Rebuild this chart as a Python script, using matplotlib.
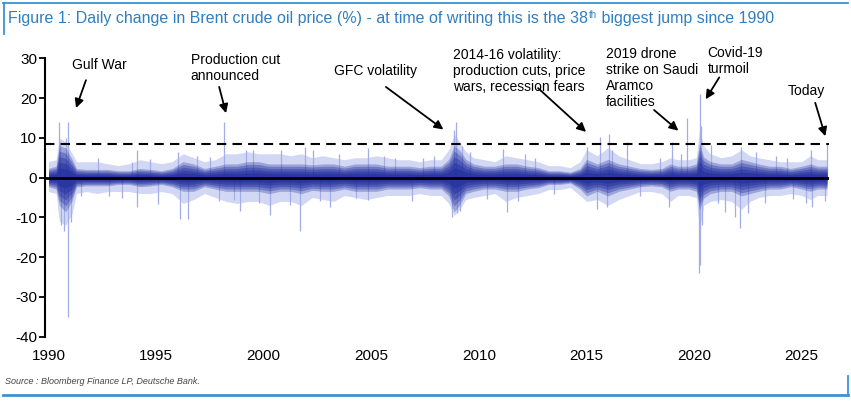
import matplotlib
matplotlib.use('Agg')
import matplotlib.pyplot as plt

# ---------------- data ----------------
env_years = [1990.0, 1990.35, 1990.5, 1990.8, 1991.1, 1991.3, 1991.75, 1992.25, 1992.75, 1993.25,
             1993.75, 1994.25, 1994.75, 1995.25, 1995.75, 1996.25, 1996.75, 1997.25, 1997.75, 1998.25,
             1998.75, 1999.25, 1999.75, 2000.25, 2000.75, 2001.25, 2001.75, 2002.25, 2002.75, 2003.25,
             2003.75, 2004.25, 2004.75, 2005.25, 2005.75, 2006.25, 2006.75, 2007.25, 2007.75, 2008.25,
             2008.6, 2008.85, 2009.1, 2009.4, 2009.75, 2010.25, 2010.75, 2011.25, 2011.75, 2012.25,
             2012.75, 2013.25, 2013.75, 2014.25, 2014.7, 2015.0, 2015.5, 2016.0, 2016.5, 2017.0,
             2017.5, 2018.0, 2018.5, 2018.9, 2019.25, 2019.75, 2020.1, 2020.25, 2020.45, 2020.75,
             2021.25, 2021.75, 2022.2, 2022.6, 2023.0, 2023.5, 2024.0, 2024.5, 2025.0, 2025.4,
             2025.75, 2026.18]
core_hi = [2.0, 2.5, 7.0, 6.5, 4.0, 2.0, 1.8, 1.8, 1.8, 1.5,
           1.5, 2.0, 1.8, 1.5, 2.0, 3.5, 3.0, 2.0, 2.5, 3.0,
           3.0, 3.5, 3.5, 3.0, 3.0, 3.0, 3.0, 2.8, 3.0, 3.0,
           2.5, 3.0, 3.0, 3.0, 2.5, 2.5, 2.5, 2.2, 2.5, 2.5,
           4.0, 7.0, 6.0, 4.0, 3.0, 2.5, 2.5, 3.0, 3.0, 2.5,
           2.2, 1.5, 1.5, 1.2, 2.0, 4.0, 3.0, 4.0, 3.0, 2.5,
           2.0, 1.8, 2.0, 3.0, 2.5, 2.5, 3.0, 7.5, 4.5, 3.5,
           3.0, 3.0, 4.0, 3.5, 3.0, 2.5, 2.5, 2.0, 2.5, 3.0,
           2.5, 2.5]
core_lo = [-2.0, -2.5, -6.0, -7.5, -5.0, -2.0, -1.8, -1.8, -1.8, -1.5,
           -1.5, -2.0, -1.8, -1.5, -2.0, -3.0, -3.0, -2.0, -2.5, -3.0,
           -3.0, -3.0, -3.0, -3.5, -3.0, -3.0, -3.5, -2.8, -3.0, -3.0,
           -2.5, -3.0, -3.0, -3.0, -2.5, -2.5, -2.5, -2.2, -2.5, -2.5,
           -4.0, -7.5, -6.0, -3.5, -3.0, -2.5, -2.5, -3.0, -3.0, -2.5,
           -2.2, -1.5, -1.5, -1.2, -2.5, -4.0, -3.0, -4.0, -3.0, -2.5,
           -2.0, -1.8, -2.0, -3.0, -2.5, -2.5, -3.0, -7.0, -4.5, -3.5,
           -3.0, -3.0, -4.0, -3.5, -3.0, -2.5, -2.5, -2.0, -2.5, -3.0,
           -2.5, -2.5]
outer_hi = [4.0, 4.5, 10.0, 9.0, 6.0, 4.0, 4.0, 4.0, 3.5, 3.0,
            3.5, 4.5, 4.0, 3.5, 4.0, 6.0, 5.0, 4.0, 4.5, 6.0,
            6.0, 6.5, 6.0, 6.0, 6.0, 5.5, 6.0, 5.0, 5.5, 5.0,
            4.5, 5.0, 5.0, 5.5, 5.0, 4.5, 4.5, 4.0, 4.5, 4.5,
            7.0, 11.0, 9.0, 6.5, 5.0, 4.5, 4.0, 5.5, 5.0, 4.5,
            4.0, 3.0, 3.0, 2.5, 4.0, 7.0, 5.5, 7.5, 5.5, 4.5,
            3.5, 3.5, 4.0, 5.0, 4.5, 4.5, 5.0, 12.0, 8.0, 6.0,
            5.0, 5.5, 7.0, 5.5, 5.0, 4.5, 4.0, 4.0, 4.0, 5.5,
            4.5, 4.5]
outer_lo = [-3.5, -4.0, -11.0, -12.0, -9.0, -4.0, -3.5, -4.0, -3.5, -3.5,
            -3.5, -4.0, -4.0, -3.5, -4.0, -6.5, -5.5, -4.0, -5.0, -6.0,
            -6.5, -6.0, -6.0, -7.0, -6.0, -6.0, -7.0, -5.0, -5.5, -6.0,
            -4.5, -5.0, -5.5, -5.0, -4.5, -4.5, -4.5, -4.0, -4.5, -4.5,
            -6.5, -9.5, -8.0, -5.5, -5.0, -4.5, -4.0, -6.0, -5.0, -4.5,
            -4.0, -3.0, -3.0, -2.5, -4.5, -6.0, -5.5, -7.0, -5.5, -4.5,
            -3.5, -3.5, -4.0, -6.0, -4.5, -4.5, -5.0, -13.0, -7.0, -6.0,
            -5.5, -6.0, -8.0, -6.0, -5.0, -4.5, -4.5, -4.0, -4.5, -5.5,
            -4.5, -4.5]

spike_years = [1990.47, 1990.55, 1990.6, 1990.7, 1990.8, 1990.92, 1990.92, 1991.05,
               1991.5, 1992.3, 1992.8, 1993.4, 1993.9, 1994.1, 1994.1, 1994.7, 1995.1,
               1996.0, 1996.1, 1996.5, 1996.9, 1997.5, 1997.9, 1998.17, 1998.6, 1998.9,
               1999.2, 1999.5, 1999.8, 2000.3, 2000.8, 2001.2, 2001.67, 2001.9, 2002.3,
               2002.6, 2003.07, 2003.5, 2004.3, 2004.85, 2004.85,
               2005.6, 2006.1, 2006.9, 2007.4, 2007.9,
               2008.75, 2008.85, 2008.92, 2008.95, 2009.0, 2009.1, 2009.2,
               2009.6, 2010.4, 2011.1, 2011.3, 2011.8, 2012.16, 2012.6, 2013.5,
               2015.02, 2015.5, 2015.63, 2015.95, 2016.05, 2016.2, 2016.87, 2017.5,
               2018.4, 2018.85, 2018.96, 2019.4, 2019.66,
               2020.22, 2020.26, 2020.28, 2020.3, 2020.35, 2020.77, 2021.1,
               2021.43, 2021.92, 2022.13, 2022.18, 2022.49, 2022.9, 2023.3, 2023.8,
               2024.3, 2024.6, 2025.2, 2025.43, 2025.5, 2026.1, 2026.18]
spike_values = [14.1, 9.0, -12.0, -13.3, 10.0, 13.9, -35.0, -11.2,
                -4.5, 5.0, -4.5, -5.0, 4.0, 6.9, -7.4, 4.8, -6.7,
                6.5, -10.5, -10.3, 5.5, 5.2, -6.0, 14.0, -5.6, -8.3,
                7.0, 6.9, -6.5, -9.5, 6.9, -7.0, -13.3, 7.8, 7.0,
                -6.0, -7.4, 6.0, -5.0, 7.5, -5.7,
                5.5, 5.0, -5.8, 5.0, 5.5,
                -9.8, 12.0, 14.0, 10.5, -9.0, -8.5, 8.0,
                6.5, -5.5, 7.3, -8.6, -6.0, 6.0, 5.0, -4.0,
                7.7, -8.0, 10.2, -7.3, 11.0, 7.0, 9.0, -4.5,
                5.0, -7.3, 9.0, 6.0, 14.9,
                -24.1, 20.9, -22.0, 13.0, -12.0, 8.2, -6.5,
                -8.6, -9.8, -12.7, 7.7, -9.0, 6.5, -6.5, 5.5,
                5.0, -5.5, -6.5, 6.9, -7.3, -5.9, 8.5]

today_jump = 8.5
x_ticks = [1990, 1995, 2000, 2005, 2010, 2015, 2020, 2025]
y_ticks = [-40, -30, -20, -10, 0, 10, 20, 30]

title_a = "Figure 1: Daily change in Brent crude oil price (%) - at time of writing this is the 38"
title_sup = "th"
title_b = " biggest jump since 1990"
source = "Source : Bloomberg Finance LP, Deutsche Bank."

annotations = [
    ("Gulf War", (1991.09, 28.3), (1991.74, 24.5), (1991.28, 17.5)),
    ("Production cut\nannounced", (1996.61, 31.4), (1997.93, 22.8), (1998.25, 16.2)),
    ("GFC volatility", (2003.27, 26.9), (2005.68, 22.8), (2008.35, 12.1)),
    ("2014-16 volatility:\nproduction cuts, price\nwars, recession fears", (2008.78, 32.7), (2012.75, 22.5), (2014.98, 11.5)),
    ("2019 drone\nstrike on Saudi\nAramco\nfacilities", (2015.91, 32.9), (2018.14, 17.0), (2019.27, 11.8)),
    ("Covid-19\nturmoil", (2020.63, 33.1), (2021.17, 25.2), (2020.54, 19.7)),
    ("Today", (2024.35, 21.8), (2025.63, 18.8), (2026.1, 10.4)),
]

# ---------------- figure ----------------
W, H = 851, 401
fig = plt.figure(figsize=(W / 100, H / 100), dpi=100)
fig.patch.set_facecolor('white')
plt.rcParams['font.family'] = ['Liberation Sans', 'DejaVu Sans']

ax = fig.add_axes([45 / W, 1 - 336.7 / H, (829 - 45) / W, (336.7 - 58.3) / H])
ax.set_xlim(1989.837, 2026.27)
ax.set_ylim(-40, 30)

# light outer band of daily moves
ax.fill_between(env_years, outer_lo, outer_hi, color='#d2d8f3', lw=0, zorder=1)
ax.vlines(spike_years, 0, spike_values, color='#a3ade6', lw=0.9, zorder=1.5)
# graded dense core (darker towards zero)
for f, a in [(1.15, 0.30), (0.95, 0.35), (0.75, 0.40), (0.55, 0.45), (0.35, 0.55)]:
    ax.fill_between(env_years, [v * f for v in core_lo], [v * f for v in core_hi],
                    color='#1f2c9e', alpha=a, lw=0, zorder=2)

ax.axhline(0, color='black', lw=2.0, zorder=3)
ax.axhline(today_jump, color='black', lw=1.5, ls=(0, (4.5, 3)), zorder=3)

for s in ['top', 'right', 'bottom']:
    ax.spines[s].set_visible(False)
ax.spines['left'].set_linewidth(1.5)
ax.set_yticks(y_ticks)
ax.set_yticklabels([str(v) for v in y_ticks])
ax.set_xticks(x_ticks)
ax.set_xticklabels([str(v) for v in x_ticks])
ax.tick_params(axis='y', direction='out', length=4, width=1.3, pad=1.5, labelsize=11)
ax.tick_params(axis='x', length=0, pad=9, labelsize=11)

for text, tpos, tail, head in annotations:
    ax.text(tpos[0], tpos[1], text, fontsize=10, va='top' if '\n' in text else 'center',
            ha='left', linespacing=1.18, clip_on=False)
    ax.annotate('', xy=head, xytext=tail,
                arrowprops=dict(arrowstyle='-|>', color='black', lw=1.3,
                                mutation_scale=13, shrinkA=0, shrinkB=0),
                annotation_clip=False)

# ---------------- title, source, frame ----------------
blue = '#2f7fc1'
tfont = ['Liberation Sans Narrow', 'Liberation Sans', 'DejaVu Sans']
t1 = fig.text(8 / W, 1 - 19 / H, title_a, color=blue, fontsize=11.5, family=tfont, va='center')
fig.canvas.draw()
r = fig.canvas.get_renderer()
bb = t1.get_window_extent(r)
t2 = fig.text(bb.x1 / W + 0.5 / W, 1 - 15 / H, title_sup, color=blue, fontsize=7, family=tfont, va='center')
bb2 = t2.get_window_extent(r)
fig.text(bb2.x1 / W, 1 - 19 / H, title_b, color=blue, fontsize=11.5, family=tfont, va='center')

fig.text(5 / W, 1 - 381 / H, source, color='#444444', fontsize=6.5, style='italic',
         family=tfont, va='center')

frame = '#3a93d2'
fig.add_artist(plt.Line2D([3 / W, 848 / W], [1 - 3 / H, 1 - 3 / H], color=frame, lw=1.3))
fig.add_artist(plt.Line2D([3.5 / W, 3.5 / W], [1 - 3 / H, 1 - 34 / H], color=frame, lw=1.3))
fig.add_artist(plt.Line2D([3 / W, 848 / W], [1 - 395 / H, 1 - 395 / H], color=frame, lw=2.0))
fig.add_artist(plt.Line2D([847.5 / W, 847.5 / W], [1 - 376 / H, 1 - 395 / H], color=frame, lw=1.3))

fig.savefig('out.png', dpi=100, facecolor='white')
